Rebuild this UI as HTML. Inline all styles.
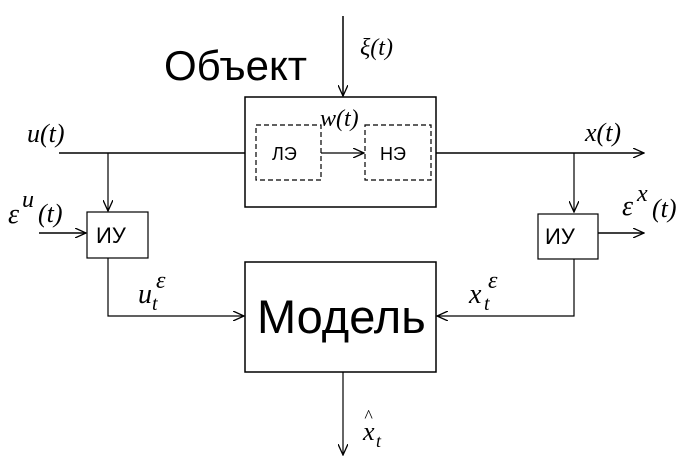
<!DOCTYPE html>
<html><head><meta charset="utf-8"><style>
html,body{margin:0;padding:0;background:#fff;}
svg{display:block;}
.it{font-family:"Liberation Serif",serif;font-style:italic;fill:#000;}
.sn{font-family:"Liberation Sans",sans-serif;fill:#000;}
</style></head><body>
<svg width="680" height="457" viewBox="0 0 680 457" xmlns="http://www.w3.org/2000/svg">
<defs>
<marker id="a" markerWidth="12" markerHeight="10" refX="11" refY="5" orient="auto" markerUnits="userSpaceOnUse">
<path d="M0,0 L11,5 L0,10" fill="none" stroke="#000" stroke-width="1.3"/>
</marker>
</defs>
<g stroke="#000" fill="none" stroke-width="1.5">
<!-- xi input -->
<line x1="343" y1="16" x2="343" y2="96" marker-end="url(#a)"/>
<!-- object box -->
<rect x="245" y="97" width="191" height="110"/>
<!-- main line -->
<line x1="59" y1="153" x2="245" y2="153"/>
<line x1="436" y1="153" x2="644" y2="153" marker-end="url(#a)"/>
<!-- inner dashed boxes -->
<rect x="256" y="125" width="65" height="55" stroke-dasharray="5,3" stroke-width="1.2"/>
<rect x="365" y="125" width="66" height="55" stroke-dasharray="5,3" stroke-width="1.2"/>
<line x1="321" y1="153" x2="364" y2="153" marker-end="url(#a)" stroke-width="1.2"/>
<!-- left branch -->
<line x1="108" y1="153" x2="108" y2="211" marker-end="url(#a)" stroke-width="1.2"/>
<rect x="87" y="212" width="61" height="46" stroke-width="1.2"/>
<line x1="39" y1="233" x2="86" y2="233" marker-end="url(#a)"/>
<polyline points="108,258 108,316 244,316" stroke-width="1.2" marker-end="url(#a)"/>
<!-- right branch -->
<line x1="574" y1="153" x2="574" y2="212" marker-end="url(#a)" stroke-width="1.2"/>
<rect x="538" y="214" width="60" height="45" stroke-width="1.2"/>
<line x1="598" y1="233" x2="644" y2="233" marker-end="url(#a)"/>
<polyline points="574,259 574,316 437,316" stroke-width="1.2" marker-end="url(#a)"/>
<!-- model -->
<rect x="245" y="262" width="191" height="110"/>
<line x1="343" y1="372" x2="343" y2="455" marker-end="url(#a)" stroke-width="1.2"/>
</g>
<text class="sn" x="164" y="80" font-size="42">Объект</text>
<text class="it" x="360" y="55" font-size="24">ξ(t)</text>
<text class="it" x="27" y="142" font-size="26">u(t)</text>
<text class="it" x="320" y="126" font-size="24">w(t)</text>
<text class="it" x="585" y="141" font-size="26">x(t)</text>
<text class="sn" x="272" y="160" font-size="18">ЛЭ</text>
<text class="sn" x="380" y="160" font-size="18">НЭ</text>
<text class="sn" x="96" y="243" font-size="22">ИУ</text>
<text class="sn" x="545" y="244" font-size="22">ИУ</text>
<text class="it" x="8" y="223" font-size="28">ε</text>
<text class="it" x="22" y="207" font-size="24">u</text>
<text class="it" x="38" y="222" font-size="26">(t)</text>
<text class="it" x="622" y="215" font-size="28">ε</text>
<text class="it" x="637" y="201" font-size="24">x</text>
<text class="it" x="652" y="217" font-size="26">(t)</text>
<text class="it" x="138" y="303" font-size="28">u</text>
<text class="it" x="152" y="310" font-size="20">t</text>
<text class="it" x="156" y="288" font-size="24">ε</text>
<text class="it" x="469" y="303" font-size="28">x</text>
<text class="it" x="484" y="310" font-size="20">t</text>
<text class="it" x="488" y="288" font-size="24">ε</text>
<text class="sn" x="257" y="333" font-size="47">Модель</text>
<text class="it" x="363" y="440" font-size="26">x</text>
<text class="it" x="376" y="447" font-size="18">t</text>
<text class="it" x="364" y="422" font-size="18">^</text>
</svg>
</body></html>
